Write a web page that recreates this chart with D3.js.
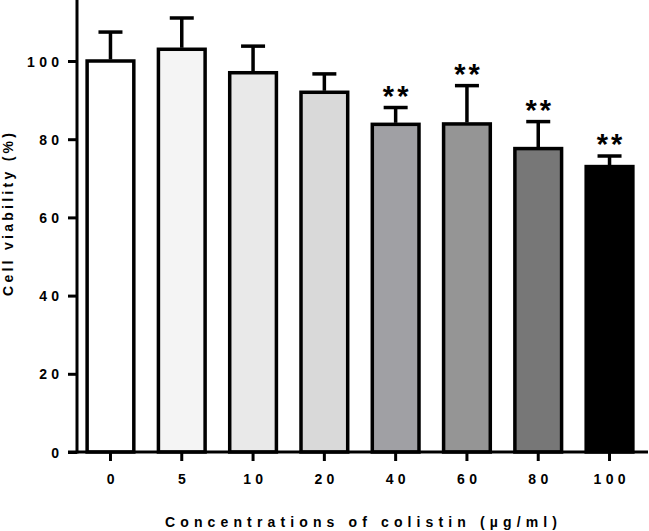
<!DOCTYPE html>
<html>
<head>
<meta charset="utf-8">
<script src="https://cdn.jsdelivr.net/npm/d3@7"></script>
<style>
  html, body { margin: 0; padding: 0; background: #fff; }
  svg { display: block; }
  text { font-family: "Liberation Sans", Arial, sans-serif; font-weight: bold; fill: #000; }
</style>
</head>
<body>
<svg id="chart" width="649" height="531"></svg>
<script>
const categories = ["0", "5", "10", "20", "40", "60", "80", "100"];
const means = [100, 103, 97, 92, 83.8, 83.9, 77.6, 73.0];
const errors = [7.4, 8.0, 6.8, 4.7, 4.3, 9.8, 6.9, 2.7];
const significance = ["", "", "", "", "**", "**", "**", "**"];
const fills = ["#ffffff", "#f4f4f4", "#e9e9e9", "#d9d9d9", "#a0a0a4", "#959595", "#777777", "#000000"];
const yTicks = [0, 20, 40, 60, 80, 100];
const yLabel = "Cell viability (%)";
const xLabel = "Concentrations of colistin (\u00b5g/ml)";

const svg = d3.select("#chart");
const x0 = 77, xEnd = 648, yBase = 452;

const x = d3.scaleBand().domain(categories).range([75, 645]).paddingInner(0.345).paddingOuter(0.17);
const y = d3.scaleLinear().domain([0, 115.6]).range([yBase, 0]);

// bars
const g = svg.append("g");
g.selectAll("rect.bar").data(categories).join("rect")
  .attr("class", "bar")
  .attr("x", d => x(d))
  .attr("width", x.bandwidth())
  .attr("y", (d, i) => y(means[i]))
  .attr("height", (d, i) => y(0) - y(means[i]))
  .attr("fill", (d, i) => fills[i])
  .attr("stroke", "#000")
  .attr("stroke-width", 3.5);

// error bars
const capW = 24;
g.selectAll("line.err").data(categories).join("line")
  .attr("class", "err")
  .attr("x1", d => x(d) + x.bandwidth() / 2)
  .attr("x2", d => x(d) + x.bandwidth() / 2)
  .attr("y1", (d, i) => y(means[i]) - 1.5)
  .attr("y2", (d, i) => y(means[i] + errors[i]))
  .attr("stroke", "#000").attr("stroke-width", 3.5);
g.selectAll("line.cap").data(categories).join("line")
  .attr("class", "cap")
  .attr("x1", d => x(d) + x.bandwidth() / 2 - capW / 2)
  .attr("x2", d => x(d) + x.bandwidth() / 2 + capW / 2)
  .attr("y1", (d, i) => y(means[i] + errors[i]))
  .attr("y2", (d, i) => y(means[i] + errors[i]))
  .attr("stroke", "#000").attr("stroke-width", 3.5);

// significance stars
g.selectAll("text.sig").data(categories).join("text")
  .attr("class", "sig")
  .attr("x", d => x(d) + x.bandwidth() / 2 + 1.5)
  .attr("y", (d, i) => y(means[i] + errors[i]) - 2)
  .attr("text-anchor", "middle")
  .style("font-size", "29px")
  .style("letter-spacing", "3px")
  .text((d, i) => significance[i]);

// y axis
const yAxis = d3.axisLeft(y).tickValues(yTicks).tickSize(9).tickSizeOuter(0).tickPadding(6);
const ya = svg.append("g").attr("transform", `translate(${x0},0)`).call(yAxis);
ya.select(".domain").remove();
ya.selectAll(".tick line").attr("stroke", "#000").attr("stroke-width", 3);
ya.selectAll(".tick text").style("font-size", "14px").style("letter-spacing", "4.3px")
  .attr("dx", "1.3px").attr("dy", "0.36em");
svg.append("line").attr("x1", x0).attr("x2", x0).attr("y1", y(115.6)).attr("y2", yBase + 1.5)
  .attr("stroke", "#000").attr("stroke-width", 3);

// x axis
const xAxis = d3.axisBottom(x).tickSize(9).tickSizeOuter(0).tickPadding(13);
const xa = svg.append("g").attr("transform", `translate(0,${yBase})`).call(xAxis);
xa.select(".domain").remove();
xa.selectAll(".tick line").attr("stroke", "#000").attr("stroke-width", 3);
xa.selectAll(".tick text").style("font-size", "14px").style("letter-spacing", "4.3px")
  .attr("dx", "2.2px");
svg.append("line").attr("x1", 68).attr("x2", xEnd).attr("y1", yBase).attr("y2", yBase)
  .attr("stroke", "#000").attr("stroke-width", 3);

// axis titles, letter spacing fitted to the target span
function fitText(sel, span) {
  sel.style("letter-spacing", "0px");
  const w0 = sel.node().getComputedTextLength();
  const n = sel.text().length;
  const ls = (span - w0) / (n - 1);
  sel.style("letter-spacing", ls + "px");
}
const xt = svg.append("text").attr("x", 165).attr("y", 527).attr("text-anchor", "start")
  .style("font-size", "14px").text(xLabel);
fitText(xt, 392);
const yt = svg.append("text").attr("transform", "translate(13,296) rotate(-90)").attr("text-anchor", "start")
  .style("font-size", "14px").text(yLabel);
fitText(yt, 163);
</script>
</body>
</html>
